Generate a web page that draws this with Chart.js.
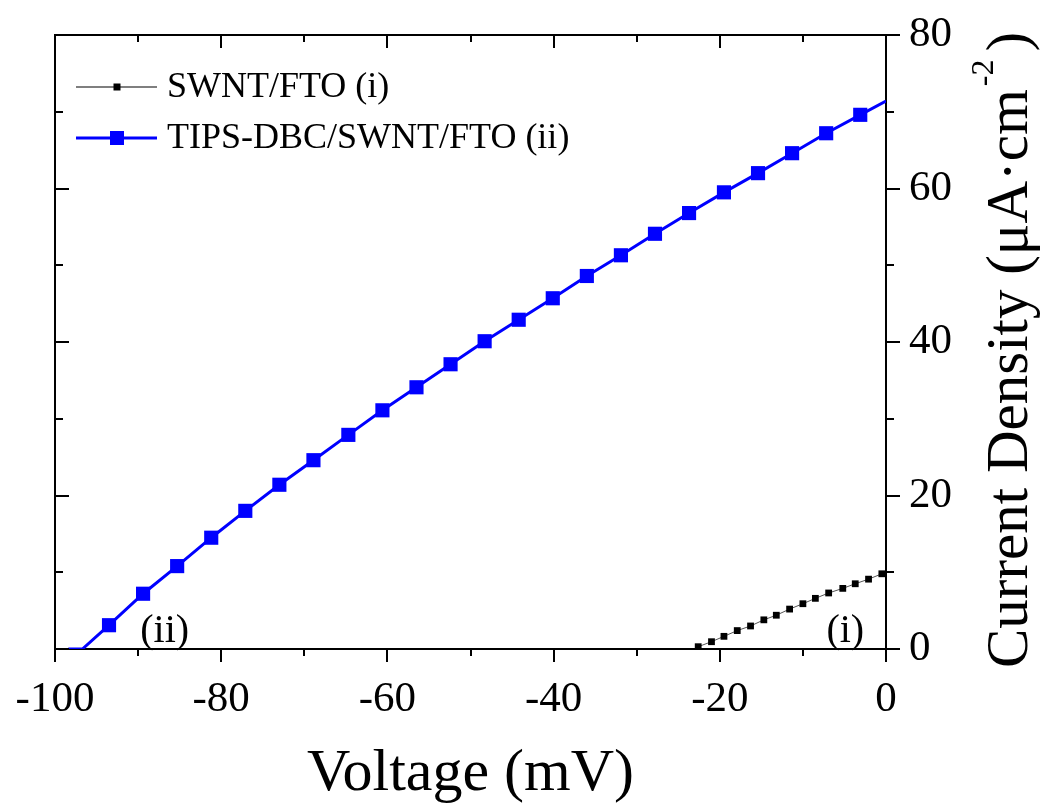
<!DOCTYPE html>
<html>
<head>
<meta charset="utf-8">
<title>Current density vs voltage</title>
<script src="https://cdn.jsdelivr.net/npm/chart.js@4.4.1/dist/chart.umd.min.js"></script>
<style>
  html, body { margin: 0; padding: 0; background: #fff; }
  canvas { display: block; }
</style>
</head>
<body>
<canvas id="ivChart" width="1041" height="805"></canvas>
<script>
// Bare SWNT/FTO electrode (i): voltage in mV, current density in uA/cm2
const swntVoltage = [-22.6, -21.0, -19.5, -17.9, -16.3, -14.7, -13.2, -11.6, -10.0, -8.5, -6.9, -5.2, -3.7, -2.1, -0.5];
const swntCurrent = [0.3, 0.95, 1.65, 2.4, 3.0, 3.8, 4.4, 5.2, 5.9, 6.6, 7.3, 7.9, 8.5, 9.1, 9.8];

// TIPS-DBC/SWNT/FTO electrode (ii); first two and last entries are where the trace meets the frame
const dbcVoltage = [-98.4, -96.7, -93.5, -89.4, -85.3, -81.2, -77.1, -73.0, -68.9, -64.7, -60.6, -56.5, -52.4,
                    -48.3, -44.2, -40.1, -36.0, -31.9, -27.8, -23.7, -19.5, -15.4, -11.3, -7.2, -3.1, 0];
const dbcCurrent = [0, 0, 3.1, 7.2, 10.8, 14.5, 18.0, 21.4, 24.6, 27.9, 31.1, 34.1, 37.1,
                    40.1, 42.9, 45.7, 48.6, 51.3, 54.1, 56.8, 59.5, 62.0, 64.6, 67.2, 69.6, 71.4];

const seriesLabels = ['SWNT/FTO (i)', 'TIPS-DBC/SWNT/FTO (ii)'];
const xTicks = [-100, -80, -60, -40, -20, 0];
const yTicks = [0, 20, 40, 60, 80];

// curve tags written next to each trace
const curveTags = ['(i)', '(ii)'];
const tagVoltage = [-4.9, -86.8];
const tagCurrent = [0.9, 0.9];

const SERIF = '"Liberation Serif", "Times New Roman", serif';

// major ticks from the label list, minor ticks halfway between them
function frameMarks(list) {
    const marks = [];
    list.forEach((v, i) => {
        marks.push({ v: v, major: true });
        if (i < list.length - 1) marks.push({ v: (v + list[i + 1]) / 2, major: false });
    });
    return marks;
}

// fixed box sizes so the plot frame sits where it should, no extra label padding
function fixSize(prop, size) {
    return s => {
        s[prop] = size;
        s.paddingLeft = s.paddingRight = s.paddingTop = s.paddingBottom = 0;
    };
}

// tick marks on all four sides of the frame: outward on bottom/right, inward on top/left
const frameTicks = {
    id: 'frameTicks',
    afterDraw(chart) {
        const { ctx, chartArea: a, scales } = chart;
        ctx.save();
        ctx.strokeStyle = '#000';
        ctx.lineWidth = 2;
        ctx.beginPath();
        frameMarks(xTicks).forEach(m => {
            const px = Math.round(scales.x.getPixelForValue(m.v));
            const len = m.major ? 13 : 7;
            ctx.moveTo(px, a.bottom); ctx.lineTo(px, a.bottom + len);
            ctx.moveTo(px, a.top); ctx.lineTo(px, a.top + len);
        });
        frameMarks(yTicks).forEach(m => {
            const py = Math.round(scales.y.getPixelForValue(m.v));
            const len = m.major ? 14 : 8;
            ctx.moveTo(a.right, py); ctx.lineTo(a.right + len, py);
            ctx.moveTo(a.left, py); ctx.lineTo(a.left + len, py);
        });
        ctx.stroke();
        ctx.restore();
    }
};

// legend box, curve tags and the right-hand axis title (it needs a superscript)
const annotations = {
    id: 'annotations',
    afterDraw(chart) {
        const { ctx, chartArea: a, scales } = chart;
        ctx.save();
        ctx.fillStyle = '#000';

        // legend rows
        const rowY = [a.top + 52, a.top + 103];
        chart.data.datasets.forEach((ds, i) => {
            const y = rowY[i];
            ctx.strokeStyle = ds.borderColor;
            ctx.lineWidth = ds.legendLine;
            ctx.beginPath();
            ctx.moveTo(a.left + 21, y);
            ctx.lineTo(a.left + 102, y);
            ctx.stroke();
            const side = ds.legendMarker;
            ctx.fillStyle = ds.pointBackgroundColor;
            ctx.fillRect(a.left + 62 - side / 2, y - side / 2, side, side);
            ctx.fillStyle = '#000';
            ctx.font = '36px ' + SERIF;
            ctx.textAlign = 'left';
            ctx.textBaseline = 'middle';
            ctx.fillText(seriesLabels[i], a.left + 112, y + 1);
        });

        // (i) and (ii) tags
        ctx.font = '40px ' + SERIF;
        ctx.textAlign = 'center';
        ctx.textBaseline = 'alphabetic';
        curveTags.forEach((t, i) => {
            ctx.fillText(t, scales.x.getPixelForValue(tagVoltage[i]), scales.y.getPixelForValue(tagCurrent[i]));
        });

        // rotated title beside the right axis
        const main = 'Current Density (\u03BCA\u00B7cm';
        const sup = '-2';
        ctx.font = '59px ' + SERIF;
        const wMain = ctx.measureText(main).width;
        const wClose = ctx.measureText(')').width;
        ctx.font = '32px ' + SERIF;
        const wSup = ctx.measureText(sup).width;
        const total = wMain + 3 + wSup + 8 + wClose;
        ctx.translate(a.right + 141, (a.top + a.bottom) / 2 + 8 + total / 2);
        ctx.rotate(-Math.PI / 2);
        ctx.textAlign = 'left';
        ctx.font = '59px ' + SERIF;
        ctx.fillText(main, 0, 0);
        ctx.font = '32px ' + SERIF;
        ctx.fillText(sup, wMain + 3, -34);
        ctx.font = '59px ' + SERIF;
        ctx.fillText(')', wMain + 3 + wSup + 8, 0);
        ctx.restore();
    }
};

const ctx = document.getElementById('ivChart').getContext('2d');

new Chart(ctx, {
    type: 'scatter',
    data: {
        datasets: [{
            label: seriesLabels[0],
            data: swntVoltage.map((v, i) => ({ x: v, y: swntCurrent[i] })),
            showLine: true,
            borderColor: '#555555',
            borderWidth: 1,
            pointStyle: 'rect',
            pointRadius: 4.8,
            pointBackgroundColor: '#000000',
            pointBorderWidth: 0,
            legendLine: 1.5,
            legendMarker: 7
        }, {
            label: seriesLabels[1],
            data: dbcVoltage.map((v, i) => ({ x: v, y: dbcCurrent[i] })),
            showLine: true,
            borderColor: '#0000ff',
            borderWidth: 3,
            pointStyle: 'rect',
            // the frame crossing points carry no marker
            pointRadius: c => (c.dataIndex < 2 || c.dataIndex === dbcVoltage.length - 1) ? 0 : 10,
            pointBackgroundColor: '#0000ff',
            pointBorderWidth: 0,
            legendLine: 3,
            legendMarker: 14
        }]
    },
    options: {
        responsive: false,
        animation: false,
        devicePixelRatio: 1,
        layout: { padding: 0 },
        plugins: {
            legend: { display: false },
            tooltip: { enabled: false }
        },
        scales: {
            x: {
                type: 'linear',
                position: 'bottom',
                min: -100,
                max: 0,
                afterBuildTicks: s => { s.ticks = xTicks.map(value => ({ value })); },
                ticks: {
                    autoSkip: false,
                    maxRotation: 0,
                    padding: 17,
                    color: '#000',
                    font: { family: SERIF, size: 43 },
                    callback: v => String(v)
                },
                grid: { display: false },
                border: { color: '#000', width: 2 },
                title: {
                    display: true,
                    text: 'Voltage (mV)',
                    color: '#000',
                    font: { family: SERIF, size: 60, lineHeight: 1 },
                    padding: { top: 0, bottom: 1 }
                },
                afterFit: fixSize('height', 156)
            },
            xTop: {
                type: 'linear',
                position: 'top',
                min: -100,
                max: 0,
                ticks: { display: false },
                grid: { display: false },
                border: { color: '#000', width: 2 },
                afterFit: fixSize('height', 35)
            },
            y: {
                type: 'linear',
                position: 'right',
                min: 0,
                max: 80,
                afterBuildTicks: s => { s.ticks = yTicks.map(value => ({ value })); },
                ticks: {
                    autoSkip: false,
                    padding: 15,
                    color: '#000',
                    font: { family: SERIF, size: 43 }
                },
                grid: { display: false },
                border: { color: '#000', width: 2 },
                afterFit: fixSize('width', 155)
            },
            yLeft: {
                type: 'linear',
                position: 'left',
                min: 0,
                max: 80,
                ticks: { display: false },
                grid: { display: false },
                border: { color: '#000', width: 2 },
                afterFit: fixSize('width', 55)
            }
        }
    },
    plugins: [frameTicks, annotations]
});
</script>
</body>
</html>
